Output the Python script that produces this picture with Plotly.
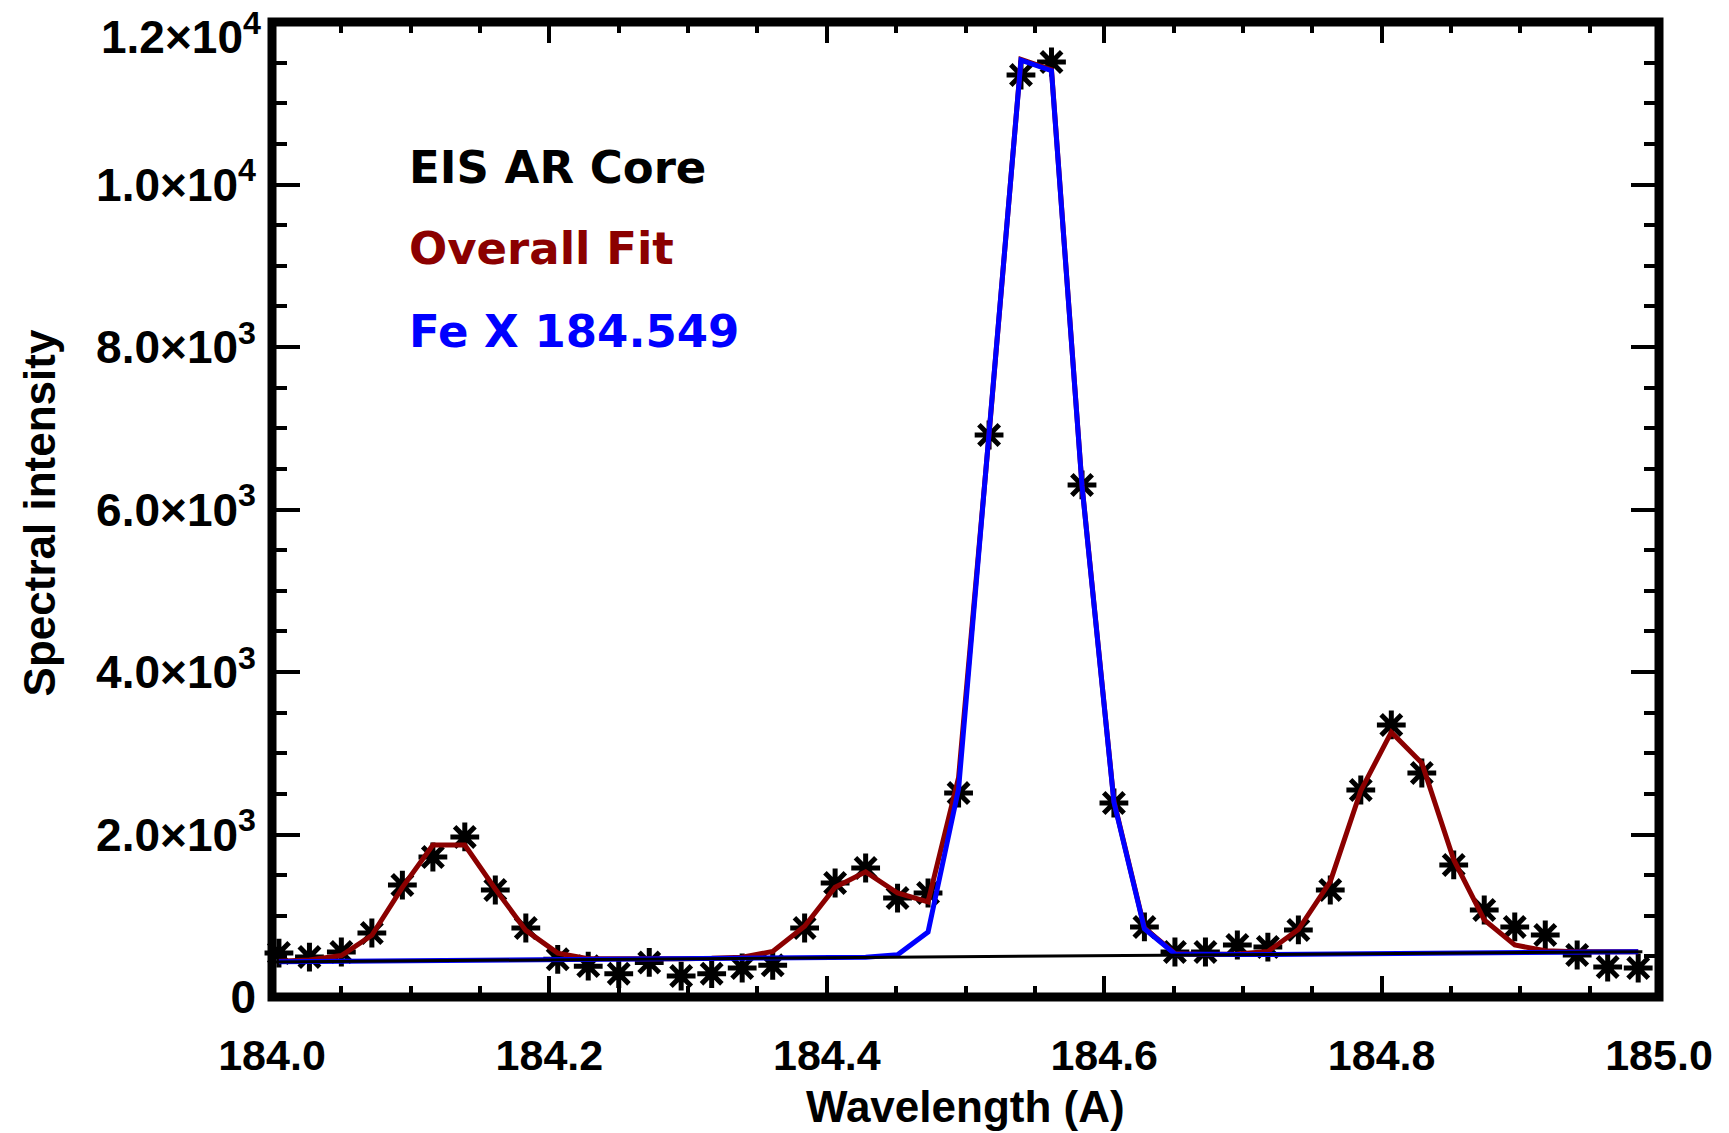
import plotly.graph_objects as go

# Observed EIS spectrum (wavelength in Angstrom, intensity)
wavelength = [184.005, 184.027, 184.050, 184.072, 184.094, 184.116, 184.139, 184.161, 184.183,
              184.206, 184.228, 184.250, 184.272, 184.295, 184.317, 184.339, 184.361, 184.384,
              184.406, 184.428, 184.451, 184.473, 184.495, 184.517, 184.540, 184.562, 184.584,
              184.607, 184.629, 184.651, 184.673, 184.696, 184.718, 184.740, 184.763, 184.785,
              184.807, 184.829, 184.852, 184.874, 184.896, 184.918, 184.941, 184.963, 184.985]

intensity = [541, 492, 554, 788, 1378, 1723, 1970, 1317, 849,
             464, 380, 287, 425, 258, 287, 357, 390, 849,
             1403, 1588, 1218, 1280, 2510, 6917, 11348, 11508, 6302,
             2388, 862, 554, 554, 640, 615, 825, 1317, 2548,
             3348, 2757, 1625, 1071, 862, 763, 517, 369, 357]

# Multi-Gaussian fit (all components plus background)
overall_fit = [440, 455, 510, 760, 1350, 1870, 1870, 1330, 820,
               540, 470, 466, 468, 471, 476, 490, 560, 870,
               1350, 1540, 1280, 1170, 2700, 6930, 11540, 11410, 6300,
               2410, 850, 535, 522, 530, 560, 830, 1420, 2540,
               3260, 2880, 1690, 950, 640, 570, 556, 556, 558]

# Fe X 184.549 component on top of the background
fe_x_fit = [435, 438, 440, 443, 446, 449, 452, 454, 457,
            460, 463, 466, 468, 471, 474, 477, 480, 482,
            485, 488, 520, 800, 2560, 6900, 11530, 11400, 6290,
            2400, 840, 530, 519, 522, 524, 527, 530, 533,
            536, 538, 541, 544, 547, 550, 552, 555, 558]

# Linear background level
background_x = [184.0, 184.988]
background_y = [432, 558]

x_tickvals = [184.0, 184.2, 184.4, 184.6, 184.8, 185.0]
x_ticktext = ["184.0", "184.2", "184.4", "184.6", "184.8", "185.0"]
y_tickvals = [0, 2000, 4000, 6000, 8000, 10000, 12000]
y_ticktext = ["0", "2.0×10<sup>3</sup>", "4.0×10<sup>3</sup>", "6.0×10<sup>3</sup>",
              "8.0×10<sup>3</sup>", "1.0×10<sup>4</sup>", "1.2×10<sup>4</sup>"]

labels = ["EIS AR Core", "Overall Fit", "Fe X 184.549"]
label_colors = ["#000000", "#8b0000", "#0000ff"]
label_y = [0.851, 0.768, 0.683]

FONT = "Liberation Sans"
LABEL_FONT = "DejaVu Sans"
X_TICK_SIZE = 43
Y_TICK_SIZE = 46

fig = go.Figure()

fig.add_trace(go.Scatter(
    x=wavelength, y=intensity, mode="markers", cliponaxis=False,
    marker=dict(symbol="asterisk-open", size=24, color="black",
                line=dict(color="black", width=5)),
    showlegend=False))

fig.add_trace(go.Scatter(
    x=wavelength, y=overall_fit, mode="lines",
    line=dict(color="#8b0000", width=5), showlegend=False))

fig.add_trace(go.Scatter(
    x=wavelength, y=fe_x_fit, mode="lines",
    line=dict(color="#0000ff", width=5), showlegend=False))

fig.add_trace(go.Scatter(
    x=background_x, y=background_y, mode="lines",
    line=dict(color="black", width=3), showlegend=False))

for text, color, yy in zip(labels, label_colors, label_y):
    fig.add_annotation(
        x=0.097, y=yy, xref="paper", yref="paper", text=text,
        showarrow=False, xanchor="left", yanchor="middle",
        font=dict(family=LABEL_FONT, size=45, color=color, weight="bold"))

fig.add_annotation(
    x=-0.168, y=0.497, xref="paper", yref="paper", text="Spectral intensity",
    textangle=-90, showarrow=False, xanchor="center", yanchor="middle",
    font=dict(family=FONT, size=44, color="black", weight="bold"))

fig.add_annotation(
    x=0.5, y=-0.112, xref="paper", yref="paper", text="Wavelength (A)",
    showarrow=False, xanchor="center", yanchor="middle",
    font=dict(family=FONT, size=44, color="black", weight="bold"))

# The topmost y label sits just below its tick so it stays inside the page
fig.add_annotation(
    x=-0.0065, y=y_tickvals[-1], xref="paper", yref="y", text=y_ticktext[-1],
    showarrow=False, xanchor="right", yanchor="middle", yshift=-12,
    font=dict(family=FONT, size=Y_TICK_SIZE, color="black", weight="bold"))

# Plot frame centred on the data edges
fig.add_shape(type="rect", xref="paper", yref="paper", x0=0, x1=1, y0=0, y1=1,
              line=dict(color="black", width=9), layer="above")

axis_common = dict(
    showline=False, mirror="allticks", automargin=False,
    ticks="inside", tickwidth=4, tickcolor="black",
    showgrid=False, zeroline=False,
)

fig.update_xaxes(
    range=[184.0, 185.0], tickvals=x_tickvals, ticktext=x_ticktext,
    ticklen=21, ticklabelstandoff=29,
    tickfont=dict(family=FONT, size=X_TICK_SIZE, color="black", weight="bold"),
    minor=dict(dtick=0.05, tick0=184.0, ticks="inside", ticklen=11,
               tickwidth=4, tickcolor="black", showgrid=False),
    **axis_common)

fig.update_yaxes(
    range=[0, 12000], tickvals=y_tickvals[:-1], ticktext=y_ticktext[:-1],
    ticklen=28, ticklabelstandoff=15,
    tickfont=dict(family=FONT, size=Y_TICK_SIZE, color="black", weight="bold"),
    minor=dict(dtick=500, tick0=0, ticks="inside", ticklen=15,
               tickwidth=4, tickcolor="black", showgrid=False),
    **axis_common)

fig.update_layout(
    width=1729, height=1133,
    margin=dict(l=272, r=70, t=22, b=136, autoexpand=False),
    paper_bgcolor="white", plot_bgcolor="white",
    font=dict(family=FONT, color="black"),
)

fig.write_html("out.html")
